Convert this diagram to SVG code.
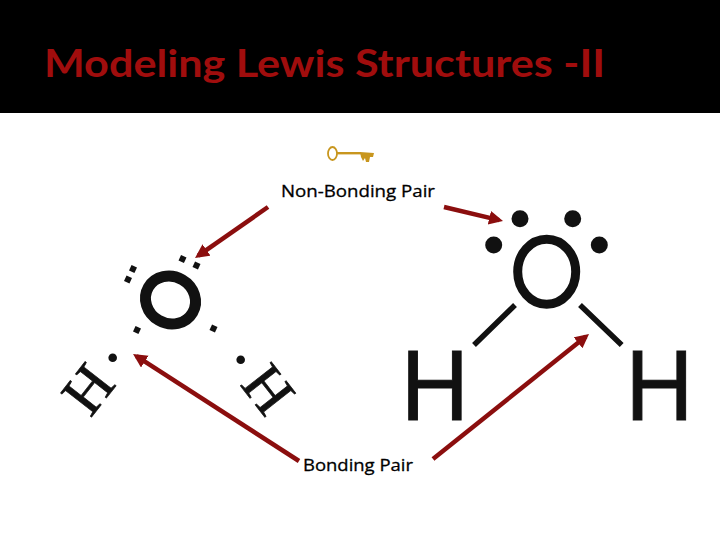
<svg xmlns="http://www.w3.org/2000/svg" width="720" height="540" viewBox="0 0 720 540">
<style>
.lbl{font-family:"Open Sans","Liberation Sans",sans-serif;font-size:17px;fill:#000;stroke:#000;stroke-width:.3px}
.ser{font-family:"Liberation Serif",serif;font-size:60px;fill:#111;stroke:#111;stroke-width:.7px;text-anchor:middle}
.san{font-family:"Liberation Sans",sans-serif;font-size:101px;fill:#111;stroke:#111;stroke-width:1px}
.arr{stroke:#8b0e0e;stroke-width:4.5;fill:none;marker-end:url(#ah)}
</style>
<defs>
<marker id="ah" markerUnits="userSpaceOnUse" markerWidth="20" markerHeight="16" refX="10" refY="7" orient="auto"><path d="M0 0L14 7L0 14Z" fill="#8b0e0e"/></marker>
</defs>
<rect width="720" height="540" fill="#fff"/>
<rect width="720" height="113" fill="#000"/>
<text id="title" x="44" y="77" font-family="Lato,'Open Sans',sans-serif" font-weight="700" font-size="38" fill="#a00d0d" textLength="561" lengthAdjust="spacingAndGlyphs">Modeling Lewis Structures -II</text>
<g id="key" fill="#c8961e">
<ellipse cx="332.5" cy="153.5" rx="4.5" ry="6.5" fill="none" stroke="#c8961e" stroke-width="1.8"/>
<rect x="337" y="152" width="24" height="2.4"/>
<path d="M360 152L374 153L373 157L370 157L369 162L366 162L365 158L363 161L361 157Z"/>
</g>
<g id="nonbonding-label"><text class="lbl" x="281" y="197" textLength="154" lengthAdjust="spacingAndGlyphs">Non-Bonding Pair</text></g>
<g id="bonding-label"><text class="lbl" x="303" y="471" textLength="110" lengthAdjust="spacingAndGlyphs">Bonding Pair</text></g>
<g id="left-molecule">
<ellipse cx="170.5" cy="300" rx="25.500" ry="23.500" fill="none" stroke="#111" stroke-width="11" transform="rotate(30 170.5 300)"/>
<g fill="#111">
<rect x="179.5" y="256" width="6" height="6" transform="rotate(25 182.5 259)"/>
<rect x="193.5" y="262.5" width="6" height="6" transform="rotate(25 196.5 265.5)"/>
<rect x="130" y="266" width="6" height="6" transform="rotate(25 133 269)"/>
<rect x="125" y="276.5" width="6" height="6" transform="rotate(25 128 279.5)"/>
<rect x="134" y="327" width="6" height="6" transform="rotate(25 137 330)"/>
<rect x="210.500" y="325.500" width="6" height="6" transform="rotate(25 213.500 328.500)"/>
<circle cx="112.700" cy="357.700" r="4.300"/>
<circle cx="240.700" cy="359.700" r="4.300"/>
</g>
<text class="ser" x="0" y="19.500" transform="translate(88.500 389.500) rotate(-52)">H</text>
<text class="ser" x="0" y="19.500" transform="translate(268 389.500) rotate(52)">H</text>
</g>
<g id="right-molecule">
<ellipse cx="546.700" cy="271.700" rx="29" ry="32.500" fill="none" stroke="#111" stroke-width="9"/>
<g fill="#111">
<circle cx="520" cy="218.700" r="8.500"/>
<circle cx="572.700" cy="218.700" r="8.500"/>
<circle cx="493.700" cy="245" r="8.500"/>
<circle cx="599.300" cy="245" r="8.500"/>
</g>
<path d="M515 305L474 345M580 305L621.700 345" stroke="#111" stroke-width="5.500" fill="none"/>
<text class="san" transform="translate(401 420) scale(.93 1)">H</text>
<text class="san" transform="translate(625.500 420) scale(.93 1)">H</text>
</g>
<g id="connectors">
<path class="arr" d="M268 207L198.300 255.700"/>
<path class="arr" d="M444 207L499.100 220.100"/>
<path class="arr" d="M299 461L136.400 356.200"/>
<path class="arr" d="M433 459L585.900 336.500"/>
</g>
</svg>
